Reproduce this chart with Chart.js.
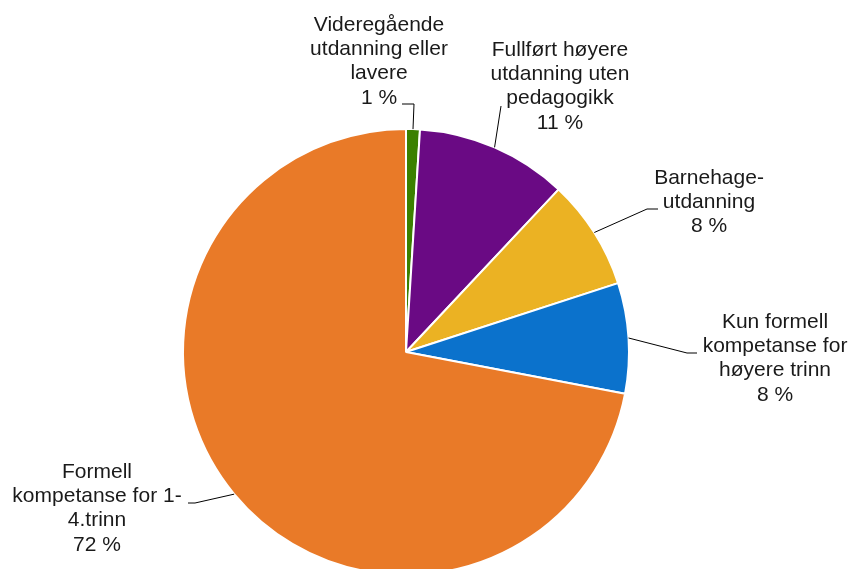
<!DOCTYPE html>
<html>
<head>
<meta charset="utf-8">
<script src="https://cdn.jsdelivr.net/npm/chart.js@4"></script>
<style>
  html, body { margin: 0; padding: 0; background: #fff; overflow: hidden; }
  #chart { display: block; }
</style>
</head>
<body>
<canvas id="chart" width="851" height="600"></canvas>
<script>
const categories = [
  ["Videregående", "utdanning eller", "lavere"],
  ["Fullført høyere", "utdanning uten", "pedagogikk"],
  ["Barnehage-", "utdanning"],
  ["Kun formell", "kompetanse for", "høyere trinn"],
  ["Formell", "kompetanse for 1-", "4.trinn"]
];
const shares = [1, 11, 8, 8, 72];
const sliceColors = ["#3b8000", "#6a0a84", "#ebb223", "#0b72cc", "#e97a28"];

// label placement: text centre x, first line y, and the leader path from the slice edge
const labelLayout = [
  { x: 379, y: 25, path: [[414, 104], [402, 104]] },
  { x: 560, y: 50, path: [[501, 106]] },
  { x: 709, y: 178, path: [[647, 209], [658, 209]] },
  { x: 775, y: 322, path: [[687, 353], [697, 353]] },
  { x: 97, y: 472, path: [[195, 503], [188, 503]] }
];

const labelPlugin = {
  id: "pieLabels",
  afterDraw(chart) {
    const ctx = chart.ctx;
    const arcs = chart.getDatasetMeta(0).data;
    ctx.save();
    ctx.strokeStyle = "#000";
    ctx.lineWidth = 1;
    arcs.forEach((arc, i) => {
      const { x, y, startAngle, endAngle, outerRadius } = arc.getProps(["x", "y", "startAngle", "endAngle", "outerRadius"], true);
      const mid = (startAngle + endAngle) / 2;
      const layout = labelLayout[i];
      ctx.beginPath();
      ctx.moveTo(x + Math.cos(mid) * outerRadius, y + Math.sin(mid) * outerRadius);
      layout.path.forEach(([px, py]) => ctx.lineTo(px, py));
      ctx.stroke();

      const lines = [...categories[i], `${shares[i]} %`];
      ctx.fillStyle = "#1a1a1a";
      ctx.font = "21px 'Liberation Sans', Arial, sans-serif";
      ctx.textAlign = "center";
      ctx.textBaseline = "middle";
      lines.forEach((line, j) => ctx.fillText(line, layout.x, layout.y + j * 24.3));
    });
    ctx.restore();
  }
};

new Chart(document.getElementById("chart"), {
  type: "pie",
  data: {
    labels: categories,
    datasets: [
      {
        data: shares,
        backgroundColor: sliceColors,
        borderColor: "#ffffff",
        borderWidth: 2
      }
    ]
  },
  options: {
    responsive: false,
    animation: false,
    layout: { padding: { left: 182, right: 221, top: 128, bottom: 24 } },
    plugins: {
      legend: { display: false },
      tooltip: { enabled: false }
    }
  },
  plugins: [labelPlugin]
});
</script>
</body>
</html>
